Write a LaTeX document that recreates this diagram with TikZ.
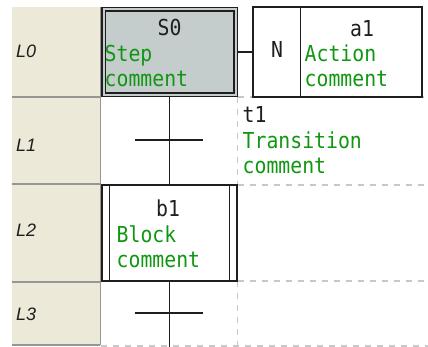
\documentclass[tikz,border=0pt]{standalone}
\usepackage{fontspec}
\usetikzlibrary{backgrounds}
\newfontfamily\sfcfont[FakeStretch=0.9]{DejaVu Sans Mono}
\newfontfamily\rowfont{Liberation Sans}
\definecolor{beige}{RGB}{236,233,216}
\definecolor{stepgray}{RGB}{196,204,204}
\definecolor{cmtgreen}{RGB}{16,150,16}
\definecolor{gridgray}{RGB}{150,150,150}
\definecolor{dashgray}{RGB}{200,200,200}
\definecolor{ink}{RGB}{30,30,30}
\begin{document}
\begin{tikzpicture}[x=1pt,y=-1pt,
  lbl/.style={font=\sfcfont\fontsize{22}{26}\selectfont, text=ink, inner sep=0pt},
  cmt/.style={font=\sfcfont\fontsize{22}{26}\selectfont, text=cmtgreen, inner sep=0pt, anchor=base west},
  rowlbl/.style={font=\rowfont\itshape\fontsize{18}{20}\selectfont, text=ink, inner sep=0pt, anchor=base west},
  gridline/.style={draw=dashgray, line width=1.2pt, dash pattern=on 6pt off 6pt},
  rowsep/.style={draw=gridgray, line width=1.2pt},
  boxline/.style={draw=ink, line width=1.3pt},
  wire/.style={draw=ink, line width=1.2pt},
  stepbox/.style={draw=ink, line width=1.4pt, double=stepgray, double distance=2pt,
    fill=stepgray, minimum width=131.9pt, minimum height=85.4pt, inner sep=0pt},
  actbox/.style={boxline, minimum width=169pt, minimum height=90pt, inner sep=0pt},
  blockbox/.style={boxline, minimum width=135pt, minimum height=96pt, inner sep=0pt},
]
\useasboundingbox (0,0) rectangle (428,347);
% row label column
\fill[beige] (12,7) rectangle (100,345);
\draw[rowsep] (12,97) -- (100,97);
\draw[rowsep] (12,184) -- (100,184);
\draw[rowsep] (12,282) -- (100,282);
\draw[rowsep] (12,345) -- (100,345);
\draw[rowsep] (100.3,7) -- (100.3,345);
\node[rowlbl] (l0) at (16,57.5) {L0};
\node[rowlbl] (l1) at (16,152) {L1};
\node[rowlbl] (l2) at (16,237) {L2};
\node[rowlbl] (l3) at (16,320) {L3};
% grid dashes
\draw[gridline] (237.5,97) -- (428,97);
\draw[gridline] (237.5,97) -- (237.5,185);
\draw[gridline] (237.5,185) -- (428,185);
\draw[gridline] (237.5,281) -- (428,281);
\draw[gridline] (237.5,281) -- (237.5,346);
\draw[gridline] (101,346) -- (428,346);
% step
\node[stepbox] (s0) at (169.75,52) {};
\node[lbl, anchor=base] (s0name) at (169.5,36) {S0};
\node[cmt] (s0c1) at (104.5,61.5) {Step};
\node[cmt] (s0c2) at (104.5,87) {comment};
% action
\node[actbox] (act) at (337.5,52) {};
\draw[boxline] ([xshift=48pt]act.north west) -- ([xshift=48pt]act.south west);
\node[lbl, anchor=base] (qual) at (277,58) {N};
\node[lbl, anchor=base] (a1name) at (362,36.5) {a1};
\node[cmt] (a1c1) at (304.5,62) {Action};
\node[cmt] (a1c2) at (304.5,87) {comment};
% block
\node[blockbox] (b1) at (169.5,233) {};
\draw[boxline] ([xshift=8pt]b1.north west) -- ([xshift=8pt]b1.south west);
\draw[boxline] ([xshift=-8pt]b1.north east) -- ([xshift=-8pt]b1.south east);
\node[lbl, anchor=base] (b1name) at (168,217) {b1};
\node[cmt] (b1c1) at (116.5,243) {Block};
\node[cmt] (b1c2) at (116.5,268) {comment};
% transition
\coordinate (t1) at (169.5,140);
\coordinate (t3) at (169.5,313);
\coordinate (bend) at (169.5,347);
\node[lbl, anchor=base west] (t1name) at (242.5,123) {t1};
\node[cmt] (t1c1) at (242.5,148.5) {Transition};
\node[cmt] (t1c2) at (242.5,174) {comment};
\begin{scope}[on background layer]
\draw[wire] (s0.east) -- (act.west);
\draw[wire] (b1.north |- s0.south) -- (b1.north);
\draw[wire] (b1.south) -- (bend);
\end{scope}
\draw[wire] ([xshift=-35pt]t1) -- ([xshift=33pt]t1);
\draw[wire] ([xshift=-35pt]t3) -- ([xshift=33pt]t3);
\end{tikzpicture}
\end{document}
